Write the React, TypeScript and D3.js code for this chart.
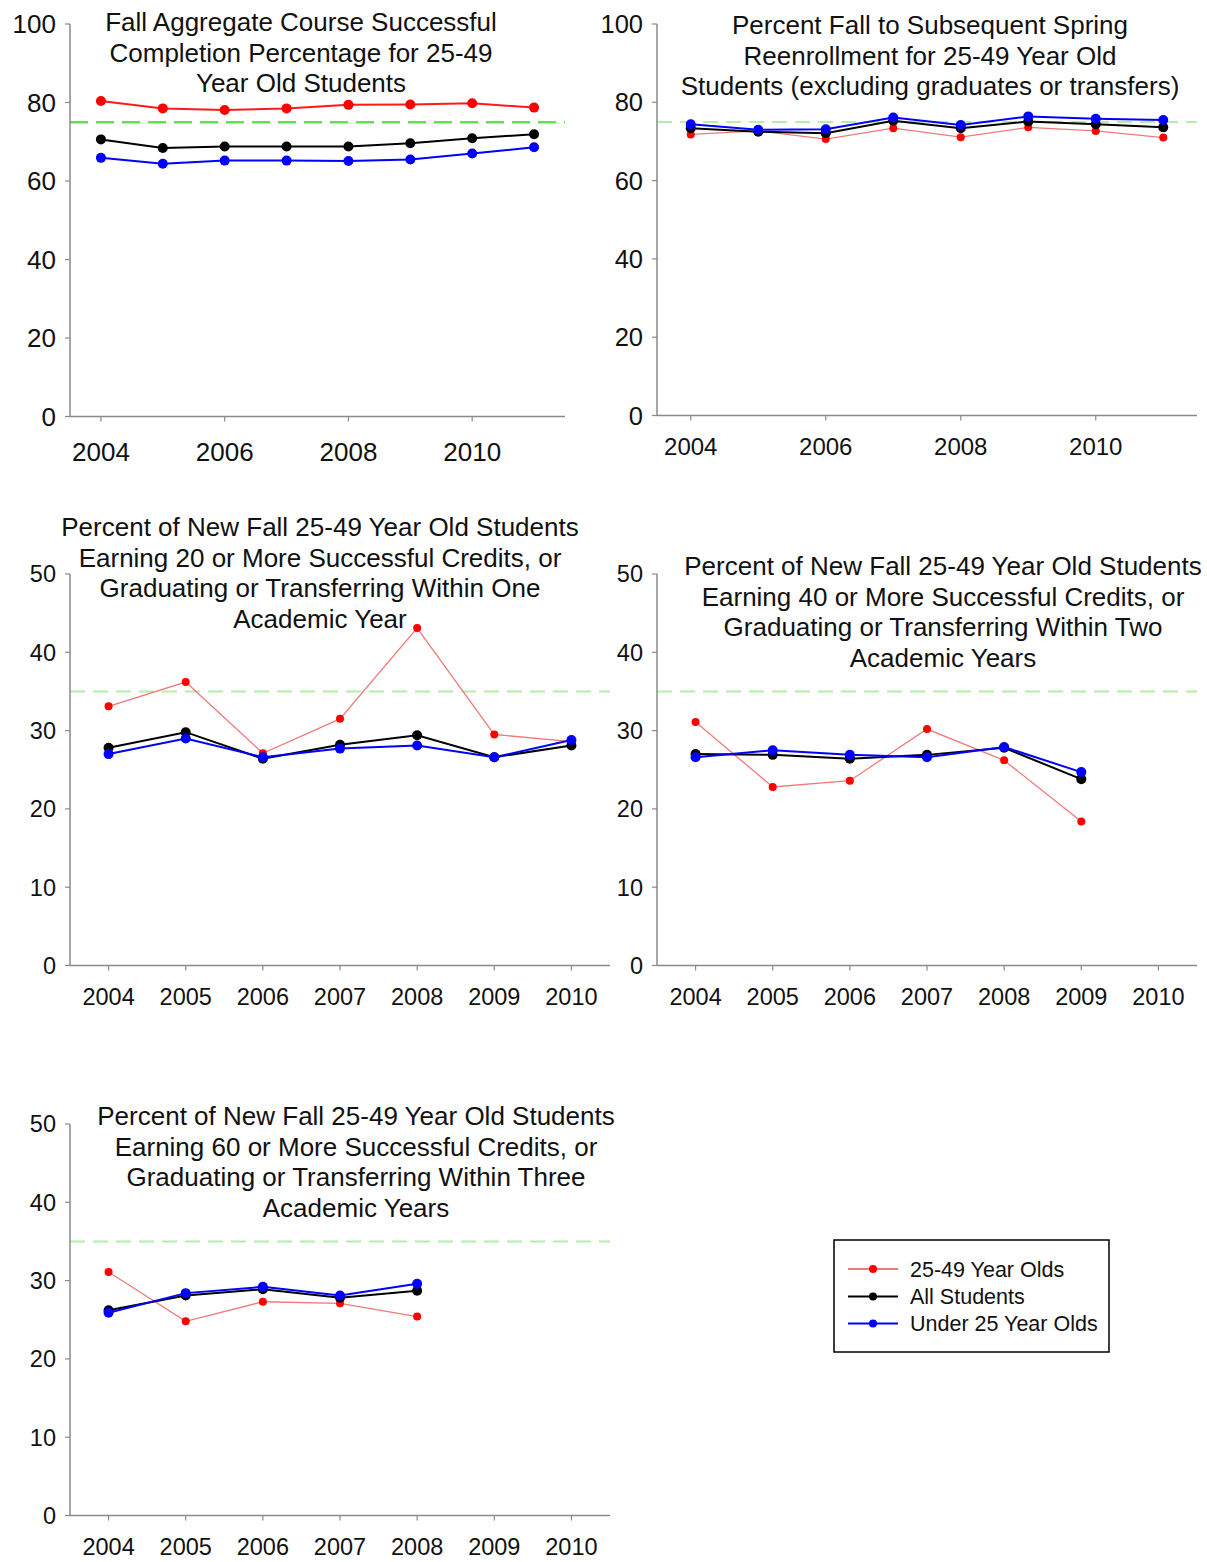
import React from "react";
import * as d3 from "d3";

// ---- Data ----
const yearsA = [2004, 2005, 2006, 2007, 2008, 2009, 2010, 2011];
const yearsB = [2004, 2005, 2006, 2007, 2008, 2009, 2010];

const p1Red = [80.4, 78.5, 78.1, 78.5, 79.4, 79.5, 79.8, 78.7];
const p1Black = [70.6, 68.4, 68.8, 68.8, 68.8, 69.6, 70.9, 71.9];
const p1Blue = [65.9, 64.4, 65.2, 65.2, 65.1, 65.5, 67.0, 68.6];

const p2Red = [71.8, 72.7, 70.6, 73.4, 71.1, 73.6, 72.7, 71.0];
const p2Black = [73.4, 72.5, 72.1, 75.3, 73.4, 75.1, 74.4, 73.6];
const p2Blue = [74.4, 73.0, 73.1, 76.1, 74.2, 76.4, 75.8, 75.5];

const p3Red = [33.1, 36.2, 27.1, 31.5, 43.1, 29.5, 28.6];
const p3Black = [27.8, 29.8, 26.4, 28.2, 29.4, 26.6, 28.1];
const p3Blue = [27.0, 29.0, 26.6, 27.7, 28.1, 26.6, 28.8];

const p4Red = [31.1, 22.8, 23.6, 30.2, 26.2, 18.4];
const p4Black = [27.0, 26.9, 26.4, 26.9, 27.8, 23.8];
const p4Blue = [26.6, 27.5, 26.9, 26.6, 27.9, 24.7];

const p5Red = [31.1, 24.8, 27.3, 27.1, 25.4];
const p5Black = [26.2, 28.1, 28.9, 27.8, 28.7];
const p5Blue = [25.9, 28.4, 29.2, 28.1, 29.6];

const ticksYA = [0, 20, 40, 60, 80, 100];
const ticksYB = [0, 10, 20, 30, 40, 50];
const ticksXA = [2004, 2006, 2008, 2010];

const seriesNames = ["25-49 Year Olds", "All Students", "Under 25 Year Olds"];

const FONT = "'Liberation Sans', Arial, Helvetica, sans-serif";

type PanelProps = {
  x0: number; x1: number; yTop: number; yBot: number;
  xDomain: [number, number]; yMax: number;
  years: number[]; red: number[]; black: number[]; blue: number[];
  bench: number; yTicks: number[]; xTicks: number[];
  title: string[]; titleX: number; titleY: number;
  tickFontY: number; tickFontX: number; xLabelBase: number;
  bold: boolean;
};

function Panel(p: PanelProps) {
  const x = d3.scaleLinear().domain(p.xDomain).range([p.x0, p.x1]);
  const y = d3.scaleLinear().domain([0, p.yMax]).range([p.yBot, p.yTop]);
  const line = d3.line<number>().x((_, i) => x(p.years[i])).y((v) => y(v));
  const axisColor = "#8a8a8a";
  const redLine = p.bold ? "#ff1a1a" : "#f07a7a";
  const series = [
    { vals: p.red, stroke: redLine, fill: "#ff0000", w: p.bold ? 2 : 1.3, r: p.bold ? 5 : 4 },
    { vals: p.black, stroke: "#000000", fill: "#000000", w: 2, r: 5 },
    { vals: p.blue, stroke: "#0000ff", fill: "#0000ff", w: 2, r: 5 },
  ];
  return (
    <g>
      <line
        x1={p.x0}
        x2={p.x1}
        y1={y(p.bench)}
        y2={y(p.bench)}
        stroke={p.bold ? "#66dd55" : "#b4eea8"}
        strokeWidth={p.bold ? 2.5 : 2}
        strokeDasharray={p.bold ? "18 8" : "15 8"}
      />
      <line x1={p.x0} x2={p.x0} y1={p.yTop} y2={p.yBot} stroke={axisColor} strokeWidth={1.5} />
      <line x1={p.x0} x2={p.x1} y1={p.yBot} y2={p.yBot} stroke={axisColor} strokeWidth={1.5} />
      {p.yTicks.map((t) => (
        <g key={"y" + t}>
          <line x1={p.x0 - 5} x2={p.x0} y1={y(t)} y2={y(t)} stroke={axisColor} strokeWidth={1.2} />
          <text
            x={p.x0 - 14}
            y={y(t)}
            dy="0.36em"
            textAnchor="end"
            fontFamily={FONT}
            fontSize={p.tickFontY}
            fill="#111"
          >
            {t}
          </text>
        </g>
      ))}
      {p.xTicks.map((t) => (
        <g key={"x" + t}>
          <line x1={x(t)} x2={x(t)} y1={p.yBot} y2={p.yBot + 5} stroke={axisColor} strokeWidth={1.2} />
          <text
            x={x(t)}
            y={p.xLabelBase}
            textAnchor="middle"
            fontFamily={FONT}
            fontSize={p.tickFontX}
            fill="#111"
          >
            {t}
          </text>
        </g>
      ))}
      {series.map((s, si) => (
        <g key={"s" + si}>
          <path d={line(s.vals) || ""} fill="none" stroke={s.stroke} strokeWidth={s.w} />
          {s.vals.map((v, i) => (
            <circle key={i} cx={x(p.years[i])} cy={y(v)} r={s.r} fill={s.fill} />
          ))}
        </g>
      ))}
      {p.title.map((t, i) => (
        <text
          key={"t" + i}
          x={p.titleX}
          y={p.titleY + i * 30.7}
          textAnchor="middle"
          fontFamily={FONT}
          fontSize={26}
          fill="#111"
        >
          {t}
        </text>
      ))}
    </g>
  );
}

function Legend() {
  const colors = [
    { line: "#f07a7a", dot: "#ff0000" },
    { line: "#000000", dot: "#000000" },
    { line: "#0000ff", dot: "#0000ff" },
  ];
  const rows = [1269, 1296.5, 1323.5];
  return (
    <g>
      <rect x={834} y={1240} width={275} height={112} fill="#fff" stroke="#000" strokeWidth={1.5} />
      {seriesNames.map((n, i) => (
        <g key={n}>
          <line x1={848} x2={898} y1={rows[i]} y2={rows[i]} stroke={colors[i].line} strokeWidth={2} />
          <circle cx={873} cy={rows[i]} r={4} fill={colors[i].dot} />
          <text x={910} y={rows[i]} dy="0.36em" fontFamily={FONT} fontSize={21.5} fill="#111">
            {n}
          </text>
        </g>
      ))}
    </g>
  );
}

export default function App() {
  return (
    <svg
      width={1207}
      height={1562}
      viewBox="0 0 1207 1562"
      style={{ position: "absolute", left: 0, top: 0, background: "#fff" }}
    >
      <rect x={0} y={0} width={1207} height={1562} fill="#fff" />
      <Panel
        x0={70} x1={565} yTop={24} yBot={416.5} xDomain={[2003.5, 2011.5]} yMax={100}
        years={yearsA} red={p1Red} black={p1Black} blue={p1Blue} bench={75}
        yTicks={ticksYA} xTicks={ticksXA}
        title={["Fall Aggregate Course Successful", "Completion Percentage for 25-49", "Year Old Students"]}
        titleX={301} titleY={31} tickFontY={26} tickFontX={26} xLabelBase={461} bold={true}
      />
      <Panel
        x0={657} x1={1197} yTop={24} yBot={415.5} xDomain={[2003.5, 2011.5]} yMax={100}
        years={yearsA} red={p2Red} black={p2Black} blue={p2Blue} bench={75}
        yTicks={ticksYA} xTicks={ticksXA}
        title={["Percent Fall to Subsequent Spring", "Reenrollment for 25-49 Year Old", "Students (excluding graduates or transfers)"]}
        titleX={930} titleY={34} tickFontY={25.5} tickFontX={24} xLabelBase={455} bold={false}
      />
      <Panel
        x0={70} x1={610} yTop={574} yBot={965.5} xDomain={[2003.5, 2010.5]} yMax={50}
        years={yearsB} red={p3Red} black={p3Black} blue={p3Blue} bench={35}
        yTicks={ticksYB} xTicks={yearsB}
        title={["Percent of New Fall 25-49 Year Old Students", "Earning 20 or More Successful Credits, or", "Graduating or Transferring Within One", "Academic Year"]}
        titleX={320} titleY={536} tickFontY={23.5} tickFontX={23.5} xLabelBase={1005} bold={false}
      />
      <Panel
        x0={657} x1={1197} yTop={574} yBot={965.5} xDomain={[2003.5, 2010.5]} yMax={50}
        years={yearsB.slice(0, p4Red.length)} red={p4Red} black={p4Black} blue={p4Blue} bench={35}
        yTicks={ticksYB} xTicks={yearsB}
        title={["Percent of New Fall 25-49 Year Old Students", "Earning 40 or More Successful Credits, or", "Graduating or Transferring Within Two", "Academic Years"]}
        titleX={943} titleY={575} tickFontY={23.5} tickFontX={23.5} xLabelBase={1005} bold={false}
      />
      <Panel
        x0={70} x1={610} yTop={1124} yBot={1515.5} xDomain={[2003.5, 2010.5]} yMax={50}
        years={yearsB.slice(0, p5Red.length)} red={p5Red} black={p5Black} blue={p5Blue} bench={35}
        yTicks={ticksYB} xTicks={yearsB}
        title={["Percent of New Fall 25-49 Year Old Students", "Earning 60 or More Successful Credits, or", "Graduating or Transferring Within Three", "Academic Years"]}
        titleX={356} titleY={1125} tickFontY={23.5} tickFontX={23.5} xLabelBase={1555} bold={false}
      />
      <Legend />
    </svg>
  );
}
